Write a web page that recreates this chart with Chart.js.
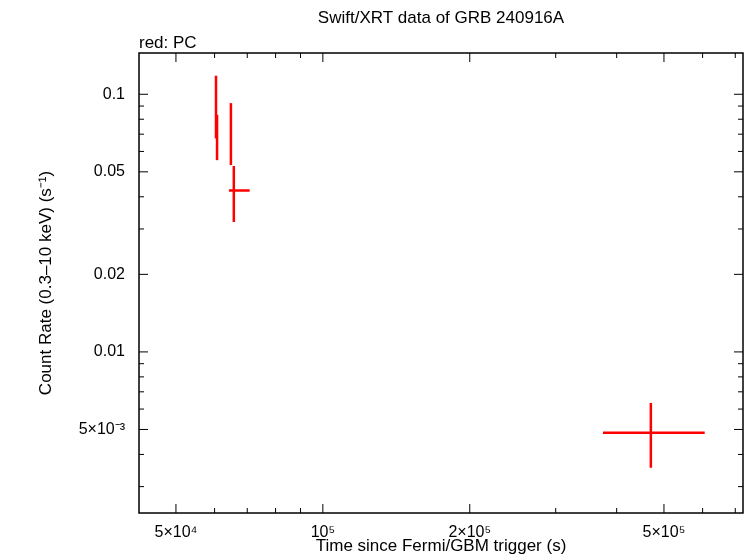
<!DOCTYPE html>
<html><head><meta charset="utf-8">
<script src="https://cdn.jsdelivr.net/npm/chart.js@4/dist/chart.umd.min.js"></script>
<style>body{margin:0;background:#fff}</style></head>
<body><canvas id="c" width="746" height="558"></canvas>
<script>
const timeVals = [60400, 60700, 64800, 65700, 470000];
const timeLo   = [60400, 60700, 64800, 64200, 375000];
const timeHi   = [60400, 60700, 64800, 70800, 606000];
const rateVals = [0.0924, 0.0698, 0.0729, 0.0423, 0.00486];
const rateLo   = [0.0674, 0.0555, 0.0531, 0.0319, 0.00355];
const rateHi   = [0.118, 0.0832, 0.0924, 0.0527, 0.00633];
const xTicks = [5e4,6e4,7e4,8e4,9e4,1e5,2e5,3e5,4e5,5e5,6e5,7e5];
const xLabels = {50000:'5×10⁴',100000:'10⁵',200000:'2×10⁵',500000:'5×10⁵'};
const yTicks = [0.003,0.004,0.005,0.006,0.007,0.008,0.009,0.01,0.02,0.03,0.04,0.05,0.06,0.07,0.08,0.09,0.1];
const yLabels = {0.1:'0.1',0.05:'0.05',0.02:'0.02',0.01:'0.01',0.005:'5×10⁻³'};
const FONT = "'Liberation Sans', Arial, sans-serif";

const deco = {
  id:'deco',
  afterDatasetsDraw(ch){
    const {ctx, chartArea:a, scales:{x,y}} = ch;
    ctx.save();
    ctx.strokeStyle='red'; ctx.lineWidth=2.5;
    for(let i=0;i<timeVals.length;i++){
      const px=x.getPixelForValue(timeVals[i]), py=y.getPixelForValue(rateVals[i]);
      ctx.beginPath();
      ctx.moveTo(px,y.getPixelForValue(rateLo[i])); ctx.lineTo(px,y.getPixelForValue(rateHi[i]));
      ctx.moveTo(x.getPixelForValue(timeLo[i]),py); ctx.lineTo(x.getPixelForValue(timeHi[i]),py);
      ctx.stroke();
    }
    ctx.strokeStyle='#000'; ctx.lineWidth=1.5;
    ctx.strokeRect(a.left,a.top,a.right-a.left,a.bottom-a.top);
    ctx.lineWidth=1;
    ctx.beginPath();
    xTicks.forEach(v=>{const p=x.getPixelForValue(v); const L=xLabels[v]?9:5;
      ctx.moveTo(p,a.bottom); ctx.lineTo(p,a.bottom-L); ctx.moveTo(p,a.top); ctx.lineTo(p,a.top+L);});
    yTicks.forEach(v=>{const p=y.getPixelForValue(v); const L=yLabels[v]?9:5;
      ctx.moveTo(a.left,p); ctx.lineTo(a.left+L,p); ctx.moveTo(a.right,p); ctx.lineTo(a.right-L,p);});
    ctx.stroke();
    ctx.fillStyle='#000'; ctx.font='17px '+FONT;
    ctx.textAlign='center'; ctx.textBaseline='middle';
    ctx.fillText('Swift/XRT data of GRB 240916A',(a.left+a.right)/2,18);
    ctx.fillText('Time since Fermi/GBM trigger (s)',(a.left+a.right)/2,546);
    ctx.save(); ctx.translate(46,(a.top+a.bottom)/2); ctx.rotate(-Math.PI/2);
    ctx.fillText('Count Rate (0.3–10 keV) (s⁻¹)',0,0); ctx.restore();
    ctx.textAlign='left'; ctx.textBaseline='alphabetic';
    ctx.fillText('red: PC',139,48);
    ctx.restore();
  }
};

new Chart(document.getElementById('c'),{
  type:'scatter',
  data:{datasets:[{data:timeVals.map((t,i)=>({x:t,y:rateVals[i]})),pointRadius:0,showLine:false}]},
  options:{
    responsive:false, devicePixelRatio:1, animation:false,
    layout:{padding:{top:53,right:3,left:0,bottom:0}},
    plugins:{legend:{display:false},tooltip:{enabled:false}},
    scales:{
      x:{type:'logarithmic',min:42000,max:726000,
        afterBuildTicks:s=>{s.ticks=xTicks.map(v=>({value:v}));},
        afterFit:s=>{s.height=45;},
        grid:{display:false},border:{display:false},
        ticks:{autoSkip:false,maxRotation:0,color:'#000',font:{family:FONT,size:16},padding:2,
          callback:v=>xLabels[v]||''},
        title:{display:false}},
      y:{type:'logarithmic',min:0.00237,max:0.1446,
        afterBuildTicks:s=>{s.ticks=yTicks.map(v=>({value:v}));},
        afterFit:s=>{s.width=139;},
        grid:{display:false},border:{display:false},
        ticks:{autoSkip:false,color:'#000',font:{family:FONT,size:16},padding:6,
          callback:v=>yLabels[+v.toPrecision(3)]||''},
        title:{display:false}}
    }
  },
  plugins:[deco]
});
</script></body></html>
